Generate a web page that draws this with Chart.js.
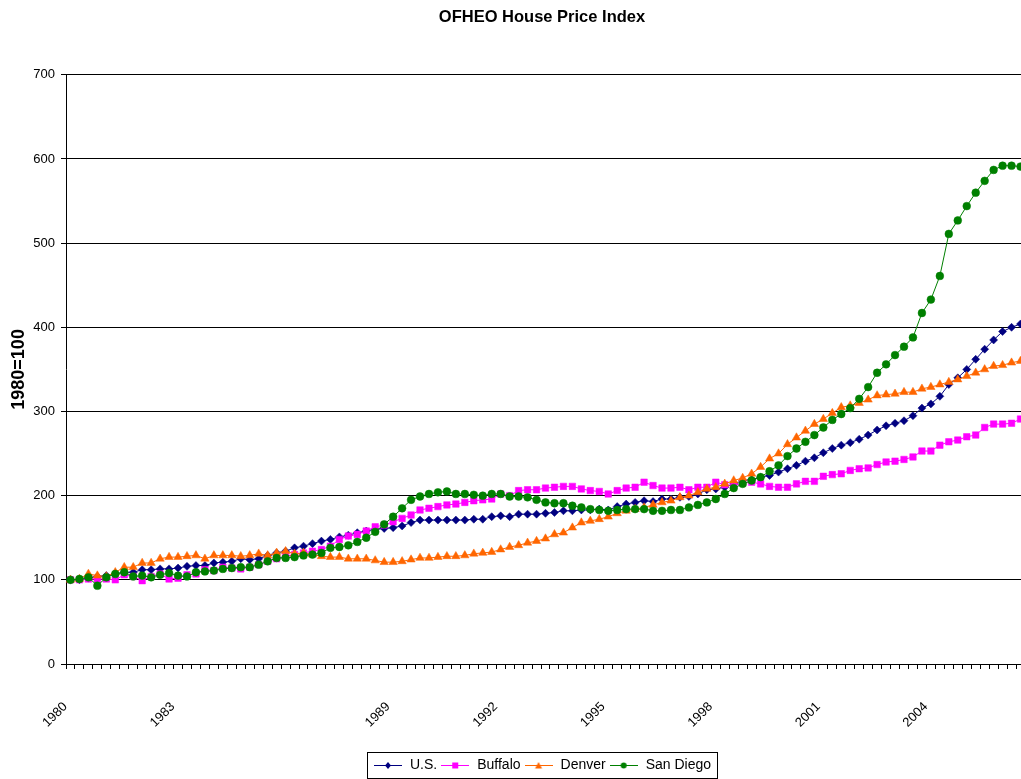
<!DOCTYPE html>
<html>
<head>
<meta charset="utf-8">
<script src="https://cdn.jsdelivr.net/npm/chart.js@4.4.1/dist/chart.umd.min.js"></script>
<style>
html,body{margin:0;padding:0;background:#fff;overflow:hidden;}
#wrap{width:1084px;height:800px;}
</style>
</head>
<body>
<div id="wrap"><canvas id="c" width="1084" height="800"></canvas></div>
<script>
// ---- categories (quarterly, 1980 Q1 .. 2006 Q3) ----
const startYear = 1980;
const quarterCount = 107;
const quarters = [];
for (let i = 0; i < quarterCount; i++) {
  quarters.push((startYear + Math.floor(i / 4)) + ' Q' + (i % 4 + 1));
}
// years shown as tick labels on the x axis
const tickYears = ['1980', '1983', '1989', '1992', '1995', '1998', '2001', '2004'];
// y axis ticks
const yTicks = [0, 100, 200, 300, 400, 500, 600, 700];

// ---- series values (1980 = 100) ----
const usValues = [
  100, 100, 102, 104, 105, 107, 109, 109, 112, 112, 113, 113, 114, 116, 117, 117, 120, 121, 122, 125, 124, 125,
  129, 132, 134, 138, 140, 143, 146, 148, 151, 153, 156, 158, 160, 161, 162, 164, 168, 171, 171, 171, 171, 171, 171, 172,
  172, 175, 176, 175, 178, 178, 178, 179, 180, 182, 182, 183, 183, 184, 183, 187, 190, 192, 194, 193, 196, 196, 198, 199, 202,
  207, 208, 210, 214, 218, 219, 222, 224, 228, 232, 236, 241, 245, 251, 256, 260, 263, 267, 272, 278, 283, 286, 289, 295,
  304, 309, 318, 332, 340, 350, 362, 374, 385, 395, 400, 404
];
const buffaloValues = [
  100, 100, 101, 101, 101, 100, 106, 104, 99, 104, 107, 101, 102, 106, 107, 112, 111, 115, 114, 113, 115, 118, 122,
  125,
  128, 130, 132, 134, 136, 140, 148, 152, 154, 158, 163, 165, 169, 173, 177, 183, 185, 187, 189, 190, 192, 194,
  195, 196, 202, 200, 206, 207, 207, 209, 210, 211, 211, 208, 206, 205, 202, 206, 209, 210, 216, 212, 209, 209, 210, 207, 210,
  210, 216, 213, 212, 215, 216, 214, 211, 210, 210, 214, 217, 217, 223, 225, 226, 230, 232, 233, 237, 240, 241, 243, 246,
  253, 253, 260, 264, 266, 270, 272, 281, 285, 285, 286, 291
];
const denverValues = [
  100, 101, 107, 105, 104, 109, 115, 115, 120, 120, 125,
  127, 127, 128, 129, 125, 129, 129, 129, 128, 129, 131, 129,
  132, 134, 131, 132, 130, 128, 127, 127, 125, 125, 125, 123, 121, 121,
  122, 124, 126, 126, 127, 128, 128, 129,
  131, 132, 133, 136, 139, 141, 144, 146, 149, 154, 156, 162, 168, 170, 172, 175, 179, 182, 184, 186, 189, 192, 194, 198, 200, 204,
  208, 210, 214, 218, 221, 226, 234, 244, 250, 261, 269, 277, 285, 291, 298, 305, 307, 310, 314, 319, 320, 321, 323, 323,
  327, 329, 332, 335, 338, 342, 346, 350, 354, 355, 358, 360
];
const sanDiegoValues = [
  100, 101, 103, 93, 103, 107, 109, 104, 105, 103, 106, 108, 105, 104, 109, 110, 111, 113, 114, 115, 115, 118, 122,
  126, 126, 127, 129, 130, 132, 138, 139, 141, 145, 150, 157, 166, 175, 185, 195, 199, 202, 204, 205, 202, 202, 201,
  200, 202, 202, 199, 199, 198, 195, 192, 191, 191, 188, 186, 184, 183, 182, 183, 184, 184, 184, 182, 182, 183, 183, 186, 189,
  192, 196, 202, 209, 214, 218, 222, 229, 236, 247, 256, 264, 272, 281, 290, 297, 304, 315, 329, 346, 356, 367, 377, 388,
  417, 433, 461, 511, 527, 544, 560, 574, 587, 592, 592, 591
];

const seriesNames = ['U.S.', 'Buffalo', 'Denver', 'San Diego'];
const seriesColors = ['#000080', '#FF00FF', '#FF6600', '#008000'];
const seriesMarkers = ['rectRot', 'rect', 'triangle', 'circle'];
const seriesRadius = [4, 4.6, 4.8, 3.9];
const seriesData = [usValues, buffaloValues, denverValues, sanDiegoValues];

const FONT = "'Liberation Sans', Arial, 'DejaVu Sans', sans-serif";

// legend sample: a short line with the marker in the middle
function legendSample(color, marker) {
  const cv = document.createElement('canvas');
  cv.width = 28; cv.height = 10;
  const g = cv.getContext('2d');
  g.strokeStyle = color; g.lineWidth = 1;
  g.beginPath(); g.moveTo(0, 5.5); g.lineTo(28, 5.5); g.stroke();
  g.fillStyle = color;
  g.beginPath();
  if (marker === 'rectRot') { g.moveTo(14, 2); g.lineTo(17, 5.5); g.lineTo(14, 9); g.lineTo(11, 5.5); g.closePath(); }
  else if (marker === 'rect') { g.rect(11, 2.5, 6, 6); }
  else if (marker === 'triangle') { g.moveTo(14, 2); g.lineTo(17.5, 8.5); g.lineTo(10.5, 8.5); g.closePath(); }
  else { g.arc(14, 5.5, 3, 0, Math.PI * 2); }
  g.fill();
  return cv;
}
const legendImages = seriesColors.map((c, i) => legendSample(c, seriesMarkers[i]));

const legendBox = {
  id: 'legendBox',
  afterDraw(chart) {
    const lg = chart.legend;
    if (!lg || !lg.legendHitBoxes || !lg.legendHitBoxes.length) return;
    const hb = lg.legendHitBoxes;
    const l = Math.min(...hb.map(h => h.left));
    const r = Math.max(...hb.map(h => h.left + h.width));
    const t = Math.min(...hb.map(h => h.top));
    const b = Math.max(...hb.map(h => h.top + h.height));
    const ctx = chart.ctx;
    ctx.save();
    ctx.strokeStyle = '#000';
    ctx.lineWidth = 1;
    ctx.strokeRect(Math.round(l - 6) + 0.5, Math.round(t - 6) + 0.5, Math.round(r - l + 12), Math.round(b - t + 12));
    ctx.restore();
  }
};

new Chart(document.getElementById('c'), {
  type: 'line',
  data: {
    labels: quarters,
    datasets: seriesNames.map((name, i) => ({
      label: name,
      data: seriesData[i],
      yAxisID: 'y',
      borderColor: seriesColors[i],
      backgroundColor: seriesColors[i],
      pointBackgroundColor: seriesColors[i],
      pointBorderColor: seriesColors[i],
      pointStyle: seriesMarkers[i],
      pointRadius: seriesRadius[i],
      pointBorderWidth: 0.5,
      borderWidth: 1,
      tension: 0,
      fill: false,
      order: 4 - i
    }))
  },
  options: {
    responsive: false,
    animation: false,
    devicePixelRatio: 1,
    layout: { padding: { left: 0, right: 0, top: 0, bottom: 18 } },
    plugins: {
      title: {
        display: true,
        text: 'OFHEO House Price Index',
        color: '#000',
        font: { family: FONT, size: 16.5, weight: 'bold' },
        padding: { top: 8, bottom: 47 }
      },
      legend: {
        position: 'bottom',
        sort: (a, b) => a.datasetIndex - b.datasetIndex,
        labels: {
          color: '#000',
          font: { family: FONT, size: 14 },
          usePointStyle: true,
          pointStyleWidth: 30,
          padding: 3,
          generateLabels(chart) {
            return chart.data.datasets.map((ds, i) => ({
              text: ds.label,
              pointStyle: legendImages[i],
              fillStyle: ds.borderColor,
              strokeStyle: ds.borderColor,
              lineWidth: 0,
              fontColor: '#000',
              hidden: false,
              datasetIndex: i
            }));
          }
        }
      },
      tooltip: { enabled: false }
    },
    scales: {
      x: {
        type: 'category',
        offset: true,
        grid: { display: true, drawOnChartArea: false, drawTicks: true, tickLength: 5, color: '#000', offset: true },
        border: { display: true, color: '#000', width: 1 },
        afterFit(scale) { scale.height = 91; },
        ticks: {
          autoSkip: false,
          maxRotation: 45,
          minRotation: 45,
          padding: 25,
          color: '#000',
          font: { family: FONT, size: 13 },
          callback(value, index) {
            const lab = quarters[index];
            const yr = lab.slice(0, 4);
            return (lab.endsWith('Q1') && tickYears.includes(yr)) ? yr + '\u00A0\u00A0' : '';
          }
        }
      },
      y: {
        position: 'left',
        min: yTicks[0],
        max: yTicks[yTicks.length - 1],
        afterBuildTicks(scale) { scale.ticks = yTicks.map(v => ({ value: v })); },
        afterFit(scale) { scale.width = 66; },
        grid: { color: '#000', lineWidth: 1, drawTicks: true, tickLength: 5 },
        border: { display: true, color: '#000', width: 1 },
        ticks: { color: '#000', padding: 6, font: { family: FONT, size: 13 } },
        title: {
          display: true,
          text: '1980=100',
          color: '#000',
          font: { family: FONT, size: 18, weight: 'bold' },
          padding: { top: 8, bottom: 4 }
        }
      },
      yRight: {
        position: 'right',
        display: true,
        min: 0,
        max: 700,
        grid: { display: false, drawTicks: false },
        border: { display: false },
        ticks: { display: false },
        afterFit(scale) { scale.width = 59; }
      }
    }
  },
  plugins: [legendBox]
});
</script>
</body>
</html>
